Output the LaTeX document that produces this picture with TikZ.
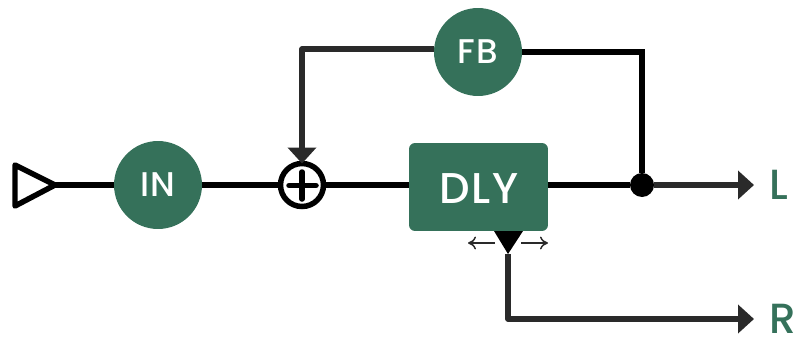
\documentclass[tikz,border=0pt]{standalone}
\usepackage{fontspec}
\setmainfont{Poppins Medium}[LetterSpace=3]
\newfontfamily\labelfont{Poppins Medium}
\usepackage{xcolor}
\usetikzlibrary{arrows.meta}
\definecolor{fxgreen}{HTML}{35715A}
\definecolor{wire}{HTML}{2A2A2A}
\tikzset{
    blob/.style={circle, fill=fxgreen, text=white, minimum size=1.76cm, inner sep=0pt, outer sep=0pt, font=\fontsize{19.5}{20}\selectfont},
    bigarrow/.style={wire, line width=0.11cm, -{Triangle[length=0.32cm,width=0.56cm]}},
    thinarrow/.style={wire, line width=0.03cm, -{To[length=0.16cm,width=0.26cm]}},
    outlabel/.style={text=fxgreen, anchor=west, inner sep=0pt, outer sep=0pt, font=\labelfont\fontsize{24}{26}\selectfont},
}
\begin{document}
\begin{tikzpicture}[x=0.02cm, y=-0.02cm, line width=0.11cm]
    \useasboundingbox (0,0) rectangle (800,338);

    \node[blob] (in) at (158,185) {IN};
    \node[blob] (fb) at (478,52) {FB};
    \node[fill=fxgreen, rounded corners=0.12cm, minimum width=2.78cm, minimum height=1.76cm, inner sep=0pt, outer sep=0pt] (dly) at (478.5,187) {};
    \node[text=white, inner sep=0pt, font=\fontsize{24.5}{26}\selectfont] (dlytext) at (479,189) {DLY};
    \node[circle, draw, line width=0.11cm, fill=white, minimum size=0.86cm, inner sep=0pt, outer sep=0pt] (sum) at (302,185) {};
    \node[circle, fill=black, minimum size=0.48cm, inner sep=0pt, outer sep=0pt] (tee) at (642,185) {};

    \node[outlabel] (l) at (769,185) {L};
    \node[outlabel] (r) at (769,319) {R};

    \coordinate (intip) at (55,185);
    \coordinate (tap) at (508,254);
    \coordinate (ltip) at (754,185);
    \coordinate (rtip) at (754,319);
    \coordinate (fbcorner) at (642,52);

    % input triangle
    \draw[line join=round] (intip) -- (15,165) -- (15,206) -- cycle;

    % signal path
    \draw (intip) -- (in);
    \draw (in) -- (sum);
    \draw (sum) -- (dly.west |- sum);
    \draw (dly.east |- tee) -- (tee);
    \draw[bigarrow] (tee) -- (ltip);

    % feedback
    \draw (tee) -- (fbcorner) -- (fb);
    \draw[bigarrow, line join=round] (fb.176) -| (sum.north);

    % plus sign
    \draw[line cap=round] (289,185.5) -- (316,185.5);
    \draw[line cap=round] (302,172) -- (302,199);

    % right tap
    \draw[bigarrow, line join=round] (tap) |- (rtip);
    \fill (494,231) -- (523,231) -- (tap) -- cycle;
    \draw[thinarrow] (495,243) -- (468,243);
    \draw[thinarrow] (521,243) -- (548,243);
\end{tikzpicture}
\end{document}
